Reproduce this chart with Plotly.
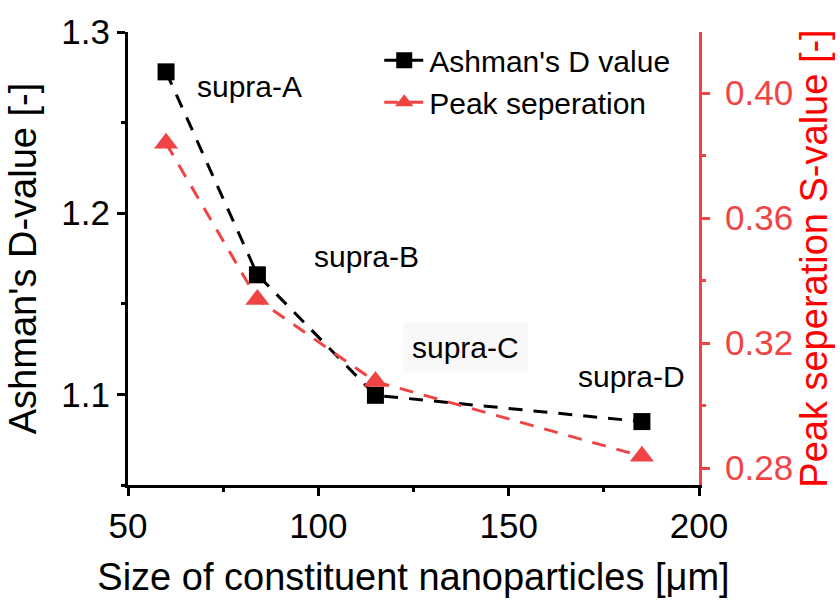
import plotly.graph_objects as go

size_um = [60, 84, 115, 185]
ashman_d = [1.278, 1.166, 1.0995, 1.085]
peak_sep = [0.384, 0.334, 0.3077, 0.2838]
sample_labels = ["supra-A", "supra-B", "supra-C", "supra-D"]
x_ticks = [50, 100, 150, 200]
y_ticks = [1.1, 1.2, 1.3]
y2_ticks = [0.28, 0.32, 0.36, 0.40]

BLACK = "#000000"
RED = "#F04444"
FONT = "Liberation Sans, Arial, sans-serif"

fig = go.Figure()
fig.add_trace(go.Scatter(
    x=size_um, y=ashman_d, name="Ashman's D value", mode="lines+markers",
    line=dict(color=BLACK, width=3, dash="14px,11px"),
    marker=dict(symbol="square", size=17, color=BLACK),
    xaxis="x", yaxis="y"))
fig.add_trace(go.Scatter(
    x=size_um, y=peak_sep, name="Peak seperation", mode="lines+markers",
    line=dict(color=RED, width=3, dash="14px,11px"),
    marker=dict(symbol="triangle-up", size=21, color=RED),
    xaxis="x", yaxis="y2"))

label_pos = [(82.0, 1.270), (112.6, 1.176), (138.6, 1.126), (182.2, 1.110)]
for lab, (lx, ly) in zip(sample_labels, label_pos):
    fig.add_annotation(x=lx, y=ly, xref="x", yref="y", text=lab, showarrow=False,
                       font=dict(family=FONT, size=30, color=BLACK),
                       bgcolor="#F8F8F8" if lab == "supra-C" else "rgba(0,0,0,0)",
                       borderpad=8 if lab == "supra-C" else 0)

axis_common = dict(showgrid=False, zeroline=False, showline=True, linewidth=3,
                   ticks="outside", tickwidth=2.5, ticklen=8)

fig.update_layout(
    width=840, height=608,
    margin=dict(l=128, r=141, t=26, b=123),
    paper_bgcolor="white", plot_bgcolor="white",
    font=dict(family=FONT, color=BLACK),
    showlegend=True,
    legend=dict(x=0.44, y=0.995, xanchor="left", yanchor="top",
                bgcolor="rgba(0,0,0,0)", borderwidth=0,
                font=dict(family=FONT, size=30, color=BLACK),
                itemwidth=40, tracegroupgap=0),
    xaxis=dict(**axis_common, range=[50, 200], tickvals=x_ticks, linecolor=BLACK,
               tickcolor=BLACK, tickfont=dict(size=35, color=BLACK),
               minor=dict(dtick=25, tick0=25, ticks="outside", ticklen=4, tickwidth=2.5, tickcolor=BLACK),
               title=dict(text="Size of constituent nanoparticles [\u03bcm]",
                          font=dict(size=38, color=BLACK), standoff=20)),
    xaxis2=dict(overlaying="x", side="top", range=[50, 200], tickvals=x_ticks,
                showticklabels=False, ticks="inside", ticklen=5, tickwidth=2,
                tickcolor=BLACK, showline=True, linecolor=BLACK, linewidth=3,
                showgrid=False, zeroline=False,
                minor=dict(dtick=25, tick0=25, ticks="inside", ticklen=3, tickwidth=2, tickcolor=BLACK)),
    yaxis=dict(**axis_common, range=[1.05, 1.3], tickvals=y_ticks, linecolor=BLACK,
               tickcolor=BLACK, tickfont=dict(size=35, color=BLACK),
               minor=dict(dtick=0.05, tick0=1.05, ticks="outside", ticklen=4, tickwidth=2.5, tickcolor=BLACK),
               title=dict(text="Ashman's D-value [-]", font=dict(size=38, color=BLACK), standoff=14)),
    yaxis2=dict(**axis_common, overlaying="y", side="right", range=[0.2746, 0.4196],
                tickvals=y2_ticks, tickformat=".2f", linecolor=RED, tickcolor=RED,
                tickfont=dict(size=35, color=RED), ticklabelstandoff=8,
                minor=dict(dtick=0.02, tick0=0.28, ticks="outside", ticklen=4, tickwidth=2.5, tickcolor=RED),
                title=dict(text="Peak seperation S-value [-]", font=dict(size=38, color="#FF0000"), standoff=6)),
)

fig.write_html("out.html")
